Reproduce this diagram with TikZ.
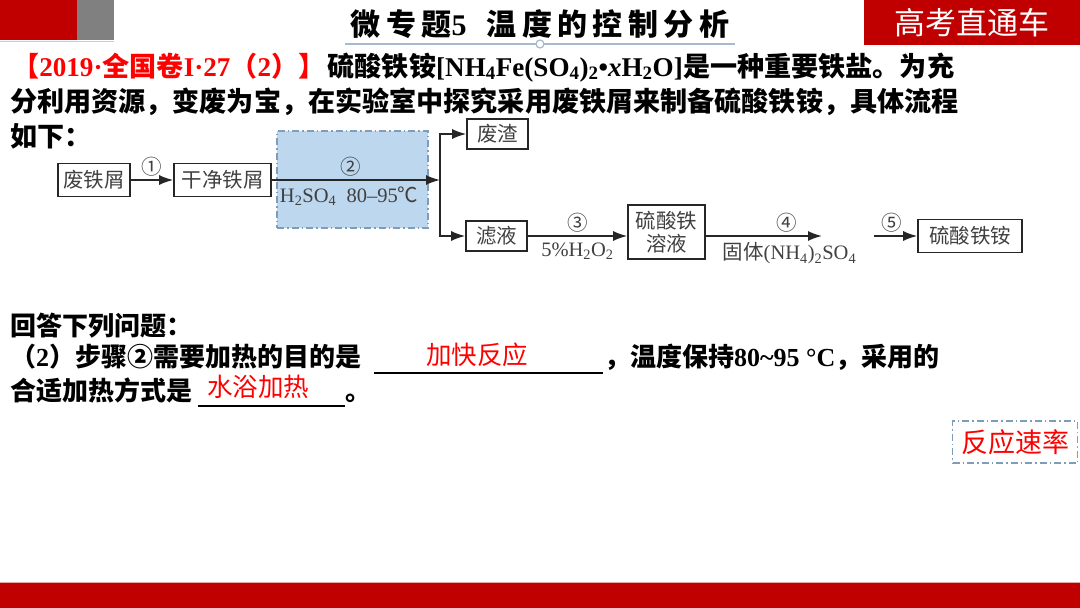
\documentclass[tikz,border=0pt]{standalone}
\usepackage{fontspec}
\setmainfont{Noto Sans CJK SC}
\newfontfamily\tnr{Liberation Serif}
\newfontfamily\titlefont{Noto Sans CJK SC}[LetterSpace=18]
\usetikzlibrary{arrows.meta,positioning}

\definecolor{bandred}{HTML}{C00000}
\definecolor{keyred}{HTML}{FF0000}
\definecolor{shade}{HTML}{BDD7EE}
\definecolor{dashblue}{HTML}{7F9DB9}
\definecolor{flowgray}{HTML}{404040}

\tikzset{
  flowbox/.style={draw=black!85, line width=1.6pt, text=flowgray, inner sep=2pt,
    font=\fontsize{20.5}{23}\selectfont},
  flowarr/.style={line width=1.6pt, draw=black!85, -{Latex[length=14pt,width=10pt]}},
  steplabel/.style={text=flowgray, inner sep=1pt, font=\fontsize{20.5}{22}\selectfont},
  zone/.style={fill=shade, draw=dashblue, line width=1.2pt,
    dash pattern=on 7pt off 3pt on 1.5pt off 3pt},
  body/.style={anchor=base west, inner sep=0pt, font=\bfseries\fontsize{27.1}{32}\selectfont},
  ask/.style={anchor=base west, inner sep=0pt, font=\bfseries\fontsize{26}{30}\selectfont},
  answer/.style={anchor=base west, inner sep=0pt, text=keyred, font=\fontsize{25.5}{30}\selectfont},
  blank/.style={line width=1.2pt, draw=black},
  hintbox/.style={draw=dashblue, line width=1.5pt, dash pattern=on 7pt off 3pt on 1.5pt off 3pt,
    text=keyred, minimum width=125pt, minimum height=42pt, font=\fontsize{27}{30}\selectfont},
  titleline/.style={draw=dashblue!70, line width=1.2pt}
}

\begin{document}
\begin{tikzpicture}[x=1pt,y=-1pt]
  \useasboundingbox (0,0) rectangle (1080,608);
  % header
  \fill[bandred] (0,0) rectangle (77,40);
  \fill[black!50] (77,0) rectangle (114,40);
  \draw[black!20, line width=1pt] (0,41) -- (114,41);
  \node[font=\titlefont\bfseries\fontsize{30}{32}\selectfont] (title) at (540,24) {微专题{\tnr 5}\hspace{20pt}温度的控制分析};
  \draw[titleline] (345,44) -- (735,44);
  \draw[titleline, fill=white] (540,44) circle (4pt);
  \fill[bandred] (864,0) rectangle (1080,45);
  \node[text=white, font=\fontsize{31}{34}\selectfont] (brand) at (972,23) {高考直通车};

  % question text
  \node[body, text=keyred] (src) at (12,76) {【{\tnr 2019·}全国卷{\tnr I·27}（{\tnr 2}）】};
  \node[body, right=2pt of src.base east, anchor=base west] (lead) {硫酸铁铵{\tnr [NH\textsubscript{4}Fe(SO\textsubscript{4})\textsubscript{2}•\textit{x}H\textsubscript{2}O]}};
  \node[body] (leadend) at (lead.base east) {是一种重要铁盐。为充};
  \node[body] (line2) at (10,111) {分利用资源，变废为宝，在实验室中探究采用废铁屑来制备硫酸铁铵，具体流程};
  \node[body] (line3) at (10,146) {如下：};

  % flow chart
  \node[zone, minimum width=151pt, minimum height=97pt] (zone) at (352.5,179.5) {};
  \node[flowbox, minimum width=72pt, minimum height=33pt] (scrap) at (94,180) {废铁屑};
  \node[flowbox, minimum width=97pt, minimum height=33pt] (clean) at (222.5,180) {干净铁屑};
  \coordinate (fork) at (440,180);
  \node[flowbox, minimum width=61pt, minimum height=30pt] (residue) at (497.5,134) {废渣};
  \node[flowbox, minimum width=61pt, minimum height=30pt] (filtrate) at (496.5,236) {滤液};
  \node[flowbox, minimum width=77pt, minimum height=54pt, align=center] (solution) at (666.5,232) {硫酸铁\\溶液};
  \coordinate (endfour) at (822,236);
  \coordinate (startfive) at (874,236);
  \node[flowbox, minimum width=104pt, minimum height=33pt] (product) at (970,236) {硫酸铁铵};

  \draw[flowarr] (scrap) -- node[steplabel, above=2pt] (n1) {①} (clean);
  \draw[flowarr] (clean) -- node[steplabel, pos=0.47, above=2pt] (n2) {②}
    node[steplabel, pos=0.46, below=5pt] (c2) {{\tnr H\textsubscript{2}SO\textsubscript{4}\ \ 80–95}℃} (fork);
  \draw[flowarr] (fork) |- (residue);
  \draw[flowarr] (fork) |- (filtrate);
  \draw[flowarr] (filtrate) -- node[steplabel, above=2pt] (n3) {③}
    node[steplabel, below=5pt] (c3) {\tnr 5\%H\textsubscript{2}O\textsubscript{2}} (filtrate -| solution.west);
  \draw[flowarr] (solution.east |- filtrate) -- node[steplabel, pos=0.7, above=2pt] (n4) {④}
    node[steplabel, pos=0.72, below=5pt] (c4) {固体{\tnr (NH\textsubscript{4})\textsubscript{2}SO\textsubscript{4}}} (endfour);
  \draw[flowarr] (startfive) -- node[steplabel, pos=0.4, above=2pt] (n5) {⑤} (product);

  % answers
  \node[ask] (q0) at (10,335) {回答下列问题：};
  \node[ask] (q1) at (10,366) {（{\tnr 2}）步骤②需要加热的目的是};
  \draw[blank] (374,373) -- (603,373);
  \node[answer] (a1) at (426,364) {加快反应};
  \node[ask] (q1b) at (604,366) {，温度保持{\tnr 80\textasciitilde 95 °C}，采用的};
  \node[ask] (q2) at (10,400) {合适加热方式是};
  \draw[blank] (198,406) -- (345,406);
  \node[answer] (a2) at (207,396) {水浴加热};
  \node[ask] (q2b) at (345,400) {。};
  \node[hintbox] (hint) at (1015,442) {反应速率};

  % footer
  \fill[bandred] (0,583) rectangle (1080,608);
  \draw[bandred!35, line width=1pt] (0,582.5) -- (1080,582.5);
\end{tikzpicture}
\end{document}
